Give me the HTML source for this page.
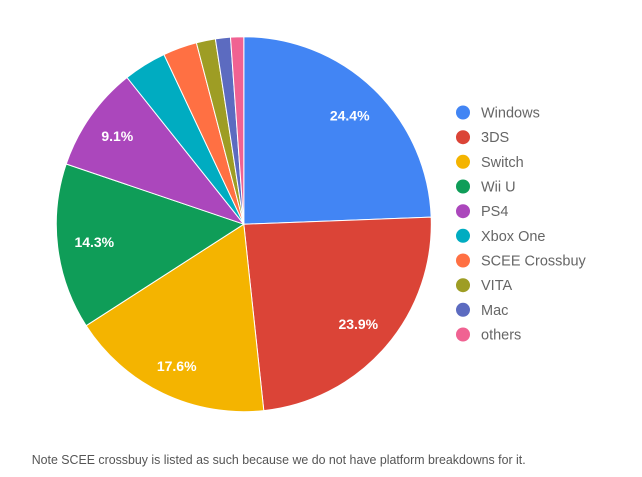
<!DOCTYPE html>
<html><head><meta charset="utf-8"><style>
html,body{margin:0;padding:0;background:#fff;}
svg{display:block;}
</style></head><body>
<svg width="642" height="477" viewBox="0 0 642 477" xmlns="http://www.w3.org/2000/svg">
<rect width="642" height="477" fill="#fff"/>
<g stroke="#fff" stroke-width="1" stroke-linejoin="round">
<path d="M243.8,224.2 L243.8,36.7 A187.5,187.5 0 0 1 431.17,217.13 Z" fill="#4285F4"/>
<path d="M243.8,224.2 L431.17,217.13 A187.5,187.5 0 0 1 263.79,410.63 Z" fill="#DB4437"/>
<path d="M243.8,224.2 L263.79,410.63 A187.5,187.5 0 0 1 86.13,325.67 Z" fill="#F4B400"/>
<path d="M243.8,224.2 L86.13,325.67 A187.5,187.5 0 0 1 66.22,164.01 Z" fill="#0F9D58"/>
<path d="M243.8,224.2 L66.22,164.01 A187.5,187.5 0 0 1 127.02,77.50 Z" fill="#AB47BC"/>
<path d="M243.8,224.2 L127.02,77.50 A187.5,187.5 0 0 1 163.97,54.54 Z" fill="#00ACC1"/>
<path d="M243.8,224.2 L163.97,54.54 A187.5,187.5 0 0 1 196.38,42.79 Z" fill="#FF7043"/>
<path d="M243.8,224.2 L196.38,42.79 A187.5,187.5 0 0 1 215.37,38.87 Z" fill="#9E9D24"/>
<path d="M243.8,224.2 L215.37,38.87 A187.5,187.5 0 0 1 230.49,37.17 Z" fill="#5C6BC0"/>
<path d="M243.8,224.2 L230.49,37.17 A187.5,187.5 0 0 1 243.8,36.7 Z" fill="#F06292"/>
</g>
<g font-family="Liberation Sans, Arial, sans-serif" font-size="14" font-weight="bold" fill="#fff" text-anchor="middle">
<text x="349.7" y="120.5">24.4%</text>
<text x="358.3" y="329">23.9%</text>
<text x="176.7" y="371">17.6%</text>
<text x="94.3" y="247">14.3%</text>
<text x="117.3" y="141">9.1%</text>
</g>
<g font-family="Liberation Sans, Arial, sans-serif" font-size="14.5" fill="#666">
<circle cx="463" cy="112.5" r="7" fill="#4285F4"/><text x="481" y="117.5">Windows</text>
<circle cx="463" cy="137.2" r="7" fill="#DB4437"/><text x="481" y="142.2">3DS</text>
<circle cx="463" cy="161.8" r="7" fill="#F4B400"/><text x="481" y="166.8">Switch</text>
<circle cx="463" cy="186.5" r="7" fill="#0F9D58"/><text x="481" y="191.5">Wii U</text>
<circle cx="463" cy="211.2" r="7" fill="#AB47BC"/><text x="481" y="216.2">PS4</text>
<circle cx="463" cy="235.8" r="7" fill="#00ACC1"/><text x="481" y="240.8">Xbox One</text>
<circle cx="463" cy="260.5" r="7" fill="#FF7043"/><text x="481" y="265.5">SCEE Crossbuy</text>
<circle cx="463" cy="285.2" r="7" fill="#9E9D24"/><text x="481" y="290.2">VITA</text>
<circle cx="463" cy="309.8" r="7" fill="#5C6BC0"/><text x="481" y="314.8">Mac</text>
<circle cx="463" cy="334.5" r="7" fill="#F06292"/><text x="481" y="339.5">others</text>
</g>
<text x="31.7" y="464" font-family="Liberation Sans, Arial, sans-serif" font-size="12.5" fill="#555" textLength="494" lengthAdjust="spacingAndGlyphs">Note SCEE crossbuy is listed as such because we do not have platform breakdowns for it.</text>
</svg>
</body></html>
